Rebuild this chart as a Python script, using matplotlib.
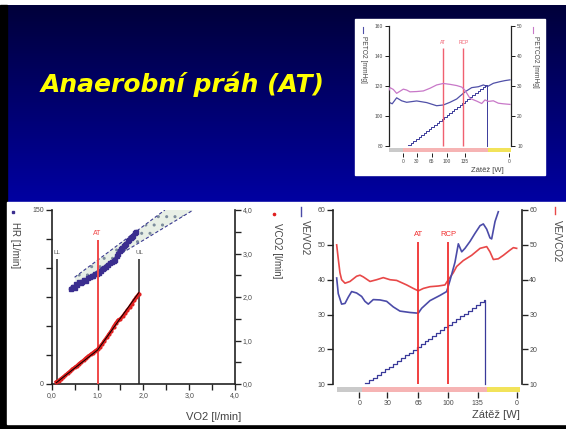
import numpy as np
import matplotlib
matplotlib.use("Agg")
import matplotlib.pyplot as plt
from matplotlib.patches import Rectangle, Polygon
from matplotlib.colors import LinearSegmentedColormap

W, H = 566, 429
TITLE = "Anaerobní práh (AT)"

# ---------------- bottom-left chart: V-slope (HR, VCO2 vs VO2) ----------------
hr_vo2 = [0.42,0.46,0.50,0.53,0.56,0.60,0.63,0.67,0.71,0.75,0.79,0.83,0.87,0.91,0.95,
          0.99,1.03,1.07,1.11,1.15,1.19,1.23,1.27,1.31,1.35,1.39,1.42,1.45,1.48,1.51,
          1.54,1.57,1.60,1.63,1.66,1.69,1.72,1.75,1.78,1.81,1.84]
hr_val = [82,84,83,86,85,88,87,88,90,89,91,92,93,93,95,
          95,96,97,99,100,101,103,104,105,106,107,110,112,115,116,
          117,119,120,121,123,124,126,127,128,130,131]
vco2_vo2 = [0.10,0.15,0.20,0.25,0.30,0.35,0.40,0.45,0.50,0.55,0.60,0.65,0.70,0.75,0.80,
            0.85,0.90,0.95,1.00,1.05,1.10,1.15,1.20,1.25,1.30,1.35,1.40,1.45,1.50,1.55,
            1.60,1.65,1.70,1.75,1.80,1.85,1.90]
vco2_val = [0.05,0.08,0.12,0.16,0.20,0.25,0.29,0.34,0.38,0.42,0.47,0.51,0.55,0.60,0.64,
            0.68,0.72,0.76,0.80,0.86,0.92,1.00,1.07,1.15,1.22,1.32,1.40,1.47,1.50,1.56,
            1.63,1.70,1.77,1.85,1.93,2.00,2.07]
fit_vo2 = [0.10, 1.00, 1.90]
fit_vco2 = [0.03, 0.78, 2.10]
band_upper_vo2 = [0.50, 2.47]
band_upper_hr = [92, 150]
band_lower_vo2 = [0.55, 1.50, 3.09]
band_lower_hr = [85, 112, 150]
vs_at_vo2, vs_at_top = 1.0, 124
ll_vo2, ul_vo2, lim_top = 0.11, 1.91, 108

# ---------------- bottom-right chart: VE/VO2, VE/VCO2 vs time ----------------
vevco2_t = [0.34,0.5,0.67,0.84,1.18,1.68,2.35,2.69,3.03,3.7,4.37,5.04,5.72,6.39,7.4,
            8.07,8.57,9.08,9.75,10.6,11.26,11.6,12.1,12.44,13.11,13.95,14.8,15.47,15.8,16.14,
            16.64,17.15,17.82,18.16,18.49]
vevco2 = [50,46,42,40,39,39.5,41,41.3,40.8,39.5,40,40.6,40,39.8,38.5,
          37.5,36.8,37.5,38,38.2,38.5,40,42,43.8,45.5,47,49,49.5,48,45.8,
          46,47,48.5,49.2,49]
vevo2_t = [0.34,0.5,0.84,1.18,1.51,1.85,2.35,2.86,3.19,3.53,4.03,4.71,5.38,6.05,6.72,
           7.73,8.57,8.91,9.75,10.76,11.43,11.77,12.27,12.61,12.95,13.28,13.79,14.29,14.8,15.13,
           15.47,15.8,15.97,16.31,16.64]
vevo2 = [40.5,36,33,33.2,35,36.6,36.2,35.2,33.8,33,34.3,34.2,33.8,32.2,31,
         30.6,30.4,31.8,34,35.5,36.6,39.8,45,50.3,48,49,51,53.3,55.5,56,
         54.5,52,51.7,56.7,59.5]
load_t = [3.2,3.6,4.0,4.4,4.8,5.2,5.6,6.0,6.4,6.8,7.2,7.6,8.0,8.4,8.8,9.2,9.6,10.0,
          10.4,10.8,11.2,11.6,12.0,12.4,12.8,13.2,13.6,14.0,14.4,14.8,15.2,15.25]
load_v = [10.3,11.1,11.9,12.7,13.5,14.3,15.1,15.9,16.7,17.5,18.3,19.1,19.9,20.7,21.5,
          22.3,23.1,23.9,24.7,25.5,26.3,27.1,27.9,28.7,29.5,30.3,31.1,31.9,32.7,33.5,34.3,10.0]
load_tick_t = [2.62, 5.44, 8.57, 11.6, 14.56, 18.5]
load_tick_lbl = ["0", "30", "65", "100", "135", "0"]
stage_edges = [0.34, 2.86, 15.47, 18.83]
stage_colors = ["#cacaca", "#f6b4b4", "#f2e35a"]
at_t, rcp_t, thr_top = 8.57, 11.6, 50.9

# ---------------- inset chart: PETO2, PETCO2 ----------------
peto2_t = [0,0.5,1.19,1.97,2.75,4.31,5.87,7.42,8.46,9.5,10.54,11.84,12.88,13.92,14.7,
           15.32,16.25,17.29,18.07,18.84]
peto2 = [109,108,112,110,109,109.9,108.8,106.7,107.2,109,111.2,116,118.8,119.4,120.6,
         119.5,121.7,122.8,123.5,124]
petco2_t = [0,0.16,0.67,1.19,1.71,2.23,2.75,3.27,4.31,5.35,6.39,7.42,8.46,9.5,10.54,
            11.32,11.84,12.62,13.66,14.44,14.95,15.47,16.25,17.03,17.8,18.84]
petco2 = [28.6,29.4,28.8,27.5,28.2,28.9,28.6,28,28.1,28.3,29.2,30.3,30.8,30.5,30.1,
          29.6,28.5,25.8,24.9,24.1,25.3,24.8,25,24.2,24,23.8]
in_load_t = [3.0,3.4,3.8,4.2,4.6,5.0,5.4,5.8,6.2,6.6,7.0,7.4,7.8,8.2,8.6,9.0,9.4,9.8,
             10.2,10.6,11.0,11.4,11.8,12.2,12.6,13.0,13.4,13.8,14.2,14.6,15.0,15.3]
in_load_v = [80.5,81.8,83.2,84.5,85.8,87.2,88.5,89.8,91.2,92.5,93.8,95.2,96.5,97.8,99.2,
             100.5,101.8,103.2,104.5,105.8,107.2,108.5,109.8,111.2,112.5,113.8,115.2,116.5,
             117.8,119.2,120.5,80.0]
in_tick_t = [2.23, 4.31, 6.65, 8.99, 11.84, 18.74]
in_tick_lbl = ["0", "30", "65", "100", "135", "0"]
in_stage_edges = [0.0, 2.23, 15.47, 19.0]
in_at_t, in_rcp_t, in_thr_top = 8.36, 11.57, 145

# ------------------------------------------------------------------
FONT = "Liberation Sans"
plt.rcParams["font.family"] = [FONT, "DejaVu Sans"]
SP = "#222222"
TL = "#4a4a4a"

fig = plt.figure(figsize=(W / 100, H / 100), dpi=100)

def rect(x0, y0, x1, y1):
    return [x0 / W, 1 - y1 / H, (x1 - x0) / W, (y1 - y0) / H]

bg = fig.add_axes([0, 0, 1, 1], zorder=-10)
bg.set_xlim(0, W)
bg.set_ylim(H, 0)
bg.axis("off")
cmap = LinearSegmentedColormap.from_list("g", ["#01013a", "#00006e", "#0000a2"])
bg.imshow(np.linspace(0, 1, 256)[:, None], extent=(7, W, 202, 5), cmap=cmap,
          aspect="auto", interpolation="bilinear")
bg.add_patch(Rectangle((0, 5), 7, H - 5, color="black"))
bg.add_patch(Rectangle((0, 424), W, 5, color="black"))
bg.add_patch(Rectangle((7, 202), W - 7, 222, color="white"))
bg.add_patch(Rectangle((355, 19), 190, 156, color="white"))
bg.text(183, 84, TITLE, color="#ffff00", fontsize=18, fontweight="bold",
        fontstyle="italic", family=["DejaVu Sans"], ha="center", va="center")

def style(ax, size=5, length=4, width=1.2):
    ax.set_facecolor("none")
    for s in ax.spines.values():
        s.set_color(SP)
        s.set_linewidth(width)
    ax.tick_params(direction="out", length=length, width=width * 0.8, color=SP,
                   labelsize=size, labelcolor=TL, pad=1.5)

# ---------------- bottom-left ----------------
ax1 = fig.add_axes(rect(51.7, 210, 235, 384))
style(ax1)
ax1.set_xlim(0, 4)
ax1.set_ylim(0, 150)
ax1.spines["top"].set_visible(False)
ax1.spines["right"].set_visible(False)
ax1r = ax1.twinx()
style(ax1r)
ax1r.set_ylim(0, 4)
for s in ["top", "left", "bottom"]:
    ax1r.spines[s].set_visible(False)

band = Polygon(list(zip(band_upper_vo2, band_upper_hr)) +
               list(zip(band_lower_vo2[::-1], band_lower_hr[::-1])),
               closed=True, facecolor="#e8efe6", edgecolor="#7c8c9c", hatch="..",
               linewidth=0, zorder=1)
ax1.add_patch(band)
ax1.plot(band_upper_vo2, band_upper_hr, color="#3a3a90", lw=0.8, ls=(0, (3, 2)), zorder=2)
ax1.plot(band_lower_vo2, band_lower_hr, color="#3a3a90", lw=0.8, ls=(0, (3, 2)), zorder=2)
ax1.plot(hr_vo2, hr_val, color="#3b2e8f", lw=2.6, marker="s", ms=2.2, zorder=3)
ax1.vlines(vs_at_vo2, 0, vs_at_top, color="#f04848", lw=1.4, zorder=4)
ax1.text(vs_at_vo2, vs_at_top + 3, "AT", color="#f04848", fontsize=5, ha="center", va="bottom")
ax1.vlines([ll_vo2, ul_vo2], 0, lim_top, color="#222222", lw=1.1, zorder=4)
ax1.text(ll_vo2, lim_top + 3, "LL", color="#555555", fontsize=4.5, ha="center", va="bottom")
ax1.text(ul_vo2, lim_top + 3, "UL", color="#555555", fontsize=4.5, ha="center", va="bottom")
ax1r.plot(vco2_vo2, vco2_val, color="#e02020", lw=2.4, marker="o", ms=2.0, zorder=3)
ax1r.plot(fit_vo2, fit_vco2, color="black", lw=0.7, zorder=4)

xt = np.arange(0, 4.01, 0.5)
ax1.set_xticks(xt)
ax1.set_xticklabels([f"{v:.1f}".replace(".", ",") if v == int(v) else "" for v in xt])
ax1.set_yticks([0, 25, 50, 75, 100, 125, 150])
ax1.set_yticklabels(["0", "", "", "", "", "", "150"])
ax1r.set_yticks(xt)
ax1r.set_yticklabels([f"{v:.1f}".replace(".", ",") if v == int(v) else "" for v in xt])

bg.plot([12.7], [212], "s", color="#3b2e8f", ms=1.6)
bg.text(15, 222, "HR [1/min]", rotation=270, ha="center", va="top", fontsize=7, color="#444444")
bg.plot([274], [214], "o", color="#e02020", ms=1.6)
bg.text(277, 223, "VCO2 [l/min]", rotation=270, ha="center", va="top", fontsize=7, color="#444444")
bg.text(241, 417, "VO2 [l/min]", ha="right", va="center", fontsize=8, color="#444444")

# ---------------- bottom-right ----------------
ax2 = fig.add_axes(rect(333.3, 210, 521.7, 392))
style(ax2)
ax2.set_xlim(0, 19)
ax2.set_ylim(7.79, 60)
ax2.spines["top"].set_visible(False)
ax2.spines["bottom"].set_visible(False)
ax2.spines["left"].set_bounds(10, 60)
ax2.spines["right"].set_bounds(10, 60)
ax2.tick_params(axis="y", right=True, labelright=True)
ax2.set_yticks([10, 20, 30, 40, 50, 60])
ax2.set_xticks(load_tick_t)
ax2.set_xticklabels(load_tick_lbl)
ax2.broken_barh([(stage_edges[i], stage_edges[i + 1] - stage_edges[i]) for i in range(3)],
                (7.88, 1.43), facecolors=stage_colors)
ax2.plot(vevco2_t, vevco2, color="#e84848", lw=1.2)
ax2.plot(vevo2_t, vevo2, color="#4b4ba8", lw=1.2)
ax2.step(load_t, load_v, where="post", color="#3a3a9a", lw=0.9)
ax2.vlines([at_t, rcp_t], 10, thr_top, color="#f03030", lw=1.3)
ax2.text(at_t, thr_top + 1, "AT", color="#f03030", fontsize=5.5, ha="center", va="bottom")
ax2.text(rcp_t, thr_top + 1, "RCP", color="#f03030", fontsize=5.5, ha="center", va="bottom")

bg.plot([301, 301], [207, 216], color="#4b4ba8", lw=1)
bg.text(305, 220, "VE/VO2", rotation=270, ha="center", va="top", fontsize=7, color="#444444")
bg.plot([555, 555], [207, 214], color="#e84848", lw=1)
bg.text(556.5, 220, "VE/VCO2", rotation=270, ha="center", va="top", fontsize=7, color="#444444")
bg.text(520, 415, "Zátěž [W]", ha="right", va="center", fontsize=8, color="#444444")

# ---------------- inset ----------------
ax3 = fig.add_axes(rect(389, 26, 511, 153))
style(ax3, size=3.5, length=3, width=0.9)
ax3.set_xlim(0, 19)
ax3.set_ylim(75.1, 160)
ax3.spines["top"].set_visible(False)
ax3.spines["bottom"].set_visible(False)
ax3.spines["right"].set_visible(False)
ax3.spines["left"].set_bounds(80, 160)
ax3.set_yticks([80, 100, 120, 140, 160])
ax3.set_xticks(in_tick_t)
ax3.set_xticklabels(in_tick_lbl)
ax3r = ax3.twinx()
style(ax3r, size=3.5, length=3, width=0.9)
ax3r.set_ylim(7.56, 50)
for s in ["top", "left", "bottom"]:
    ax3r.spines[s].set_visible(False)
ax3r.spines["right"].set_bounds(10, 50)
ax3r.set_yticks([10, 20, 30, 40, 50])
ax3.broken_barh([(in_stage_edges[i], in_stage_edges[i + 1] - in_stage_edges[i]) for i in range(3)],
                (76.0, 2.66), facecolors=stage_colors)
ax3.plot(peto2_t, peto2, color="#5050a8", lw=0.9)
ax3.step(in_load_t, in_load_v, where="post", color="#3a3a9a", lw=0.7)
ax3.vlines([in_at_t, in_rcp_t], 80, in_thr_top, color="#f06070", lw=1.0)
ax3.text(in_at_t, in_thr_top + 2, "AT", color="#f06070", fontsize=3.5, ha="center", va="bottom")
ax3.text(in_rcp_t, in_thr_top + 2, "RCP", color="#f06070", fontsize=3.5, ha="center", va="bottom")
ax3r.plot(petco2_t, petco2, color="#c878c8", lw=0.9)

bg.plot([363, 363], [27, 33], color="#5050a8", lw=0.8)
bg.text(363, 36, "PETO2 [mmHg]", rotation=270, ha="center", va="top", fontsize=4.8, color="#444444")
bg.plot([533, 533], [27, 33], color="#c878c8", lw=0.8)
bg.text(535, 36, "PETCO2 [mmHg]", rotation=270, ha="center", va="top", fontsize=4.8, color="#444444")
bg.text(504, 170, "Zátěž [W]", ha="right", va="center", fontsize=5.5, color="#444444")

fig.savefig("out.png", dpi=100)
